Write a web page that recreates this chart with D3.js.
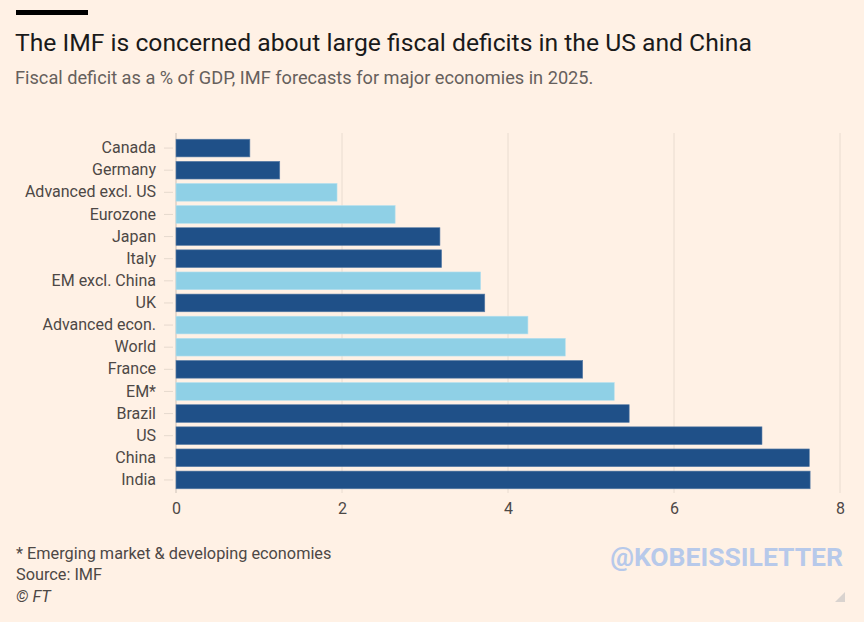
<!DOCTYPE html>
<html><head><meta charset="utf-8">
<script src="https://cdn.jsdelivr.net/npm/d3@7"></script>
<style>
html,body{margin:0;padding:0;background:#fff1e5;}
svg{display:block;font-family:Roboto,"Noto Sans",sans-serif;}
</style></head>
<body><svg id="chart" width="864" height="622"></svg>
<script>
const categories = ["Canada","Germany","Advanced excl. US","Eurozone","Japan","Italy","EM excl. China","UK","Advanced econ.","World","France","EM*","Brazil","US","China","India"];
const values = [0.89,1.25,1.94,2.64,3.18,3.2,3.67,3.72,4.24,4.69,4.9,5.28,5.46,7.06,7.63,7.64];
const groups = ["country","country","aggregate","aggregate","country","country","aggregate","country","aggregate","aggregate","country","aggregate","country","country","country","country"];
const xTicks = [0,2,4,6,8];
const colorMap = {country:"#1f5088", aggregate:"#8fd0e6"};

const svg = d3.select("#chart");
const W = 864, H = 622;
svg.append("rect").attr("width",W).attr("height",H).attr("fill","#fff1e5");

// top rule
svg.append("rect").attr("x",16).attr("y",10).attr("width",72).attr("height",5).attr("fill","#000");

svg.append("text").attr("x",15).attr("y",51).attr("font-size",24.7).attr("fill","#1a1a1a")
  .text("The IMF is concerned about large fiscal deficits in the US and China");
svg.append("text").attr("x",15).attr("y",84).attr("font-size",18.2).attr("fill","#66605c")
  .text("Fiscal deficit as a % of GDP, IMF forecasts for major economies in 2025.");

const x = d3.scaleLinear().domain([0,8]).range([176,840]);
const y = d3.scaleBand().domain(categories).range([137,491]).paddingInner(0.2).paddingOuter(0.1);

// grid
const g = svg.append("g");
g.selectAll("line.grid").data(xTicks.slice(1)).join("line")
  .attr("x1",d=>x(d)).attr("x2",d=>x(d)).attr("y1",133).attr("y2",493)
  .attr("stroke","#e9dcd0").attr("stroke-width",1);

// y axis
const yAxis = d3.axisLeft(y).tickSize(10).tickPadding(4);
const ya = svg.append("g").attr("transform",`translate(${x(0)},0)`).call(yAxis);
ya.select(".domain").remove();
ya.selectAll(".tick line").attr("stroke","#e6d9ce").attr("x2",-12).attr("x1",-3);
ya.selectAll(".tick text").attr("font-size",16).attr("fill","#4d4845").attr("font-family","Roboto,sans-serif").attr("x",-20);
svg.append("line").attr("x1",x(0)).attr("x2",x(0)).attr("y1",133).attr("y2",493).attr("stroke","#ccc1b7");

// bars
svg.selectAll("rect.bar").data(categories).join("rect").attr("class","bar")
  .attr("x",x(0)).attr("y",d=>y(d)).attr("height",y.bandwidth())
  .attr("width",(d,i)=>x(values[i])-x(0))
  .attr("fill",(d,i)=>colorMap[groups[i]])
  .attr("stroke",(d,i)=>groups[i]==="country"?"#5c7fa8":"#b5e0ee").attr("stroke-width",0.6);

// x axis
const xAxis = d3.axisBottom(x).tickValues(xTicks).tickSize(0).tickPadding(8).tickFormat(d3.format("d"));
const xa = svg.append("g").attr("transform",`translate(0,495)`).call(xAxis);
xa.select(".domain").remove();
xa.selectAll(".tick text").attr("font-size",16).attr("fill","#4d4845").attr("font-family","Roboto,sans-serif");

// footnotes
const foot = [["* Emerging market & developing economies",559,"normal"],["Source: IMF",580,"normal"],["© FT",602,"italic"]];
svg.selectAll("text.foot").data(foot).join("text").attr("class","foot")
  .attr("x",16).attr("y",d=>d[1]).attr("font-size",16.3).attr("fill","#4d4845").attr("font-style",d=>d[2]).text(d=>d[0]);

svg.append("text").attr("x",843).attr("y",566).attr("text-anchor","end").attr("font-size",26.5)
  .attr("font-weight","bold").attr("fill","#b7c9ea").attr("font-family","Roboto,Arial,sans-serif").text("@KOBEISSILETTER");

svg.append("path").attr("d","M845,592 L845,602 L835,602 Z").attr("fill","#d9d3cf");
</script></body></html>
